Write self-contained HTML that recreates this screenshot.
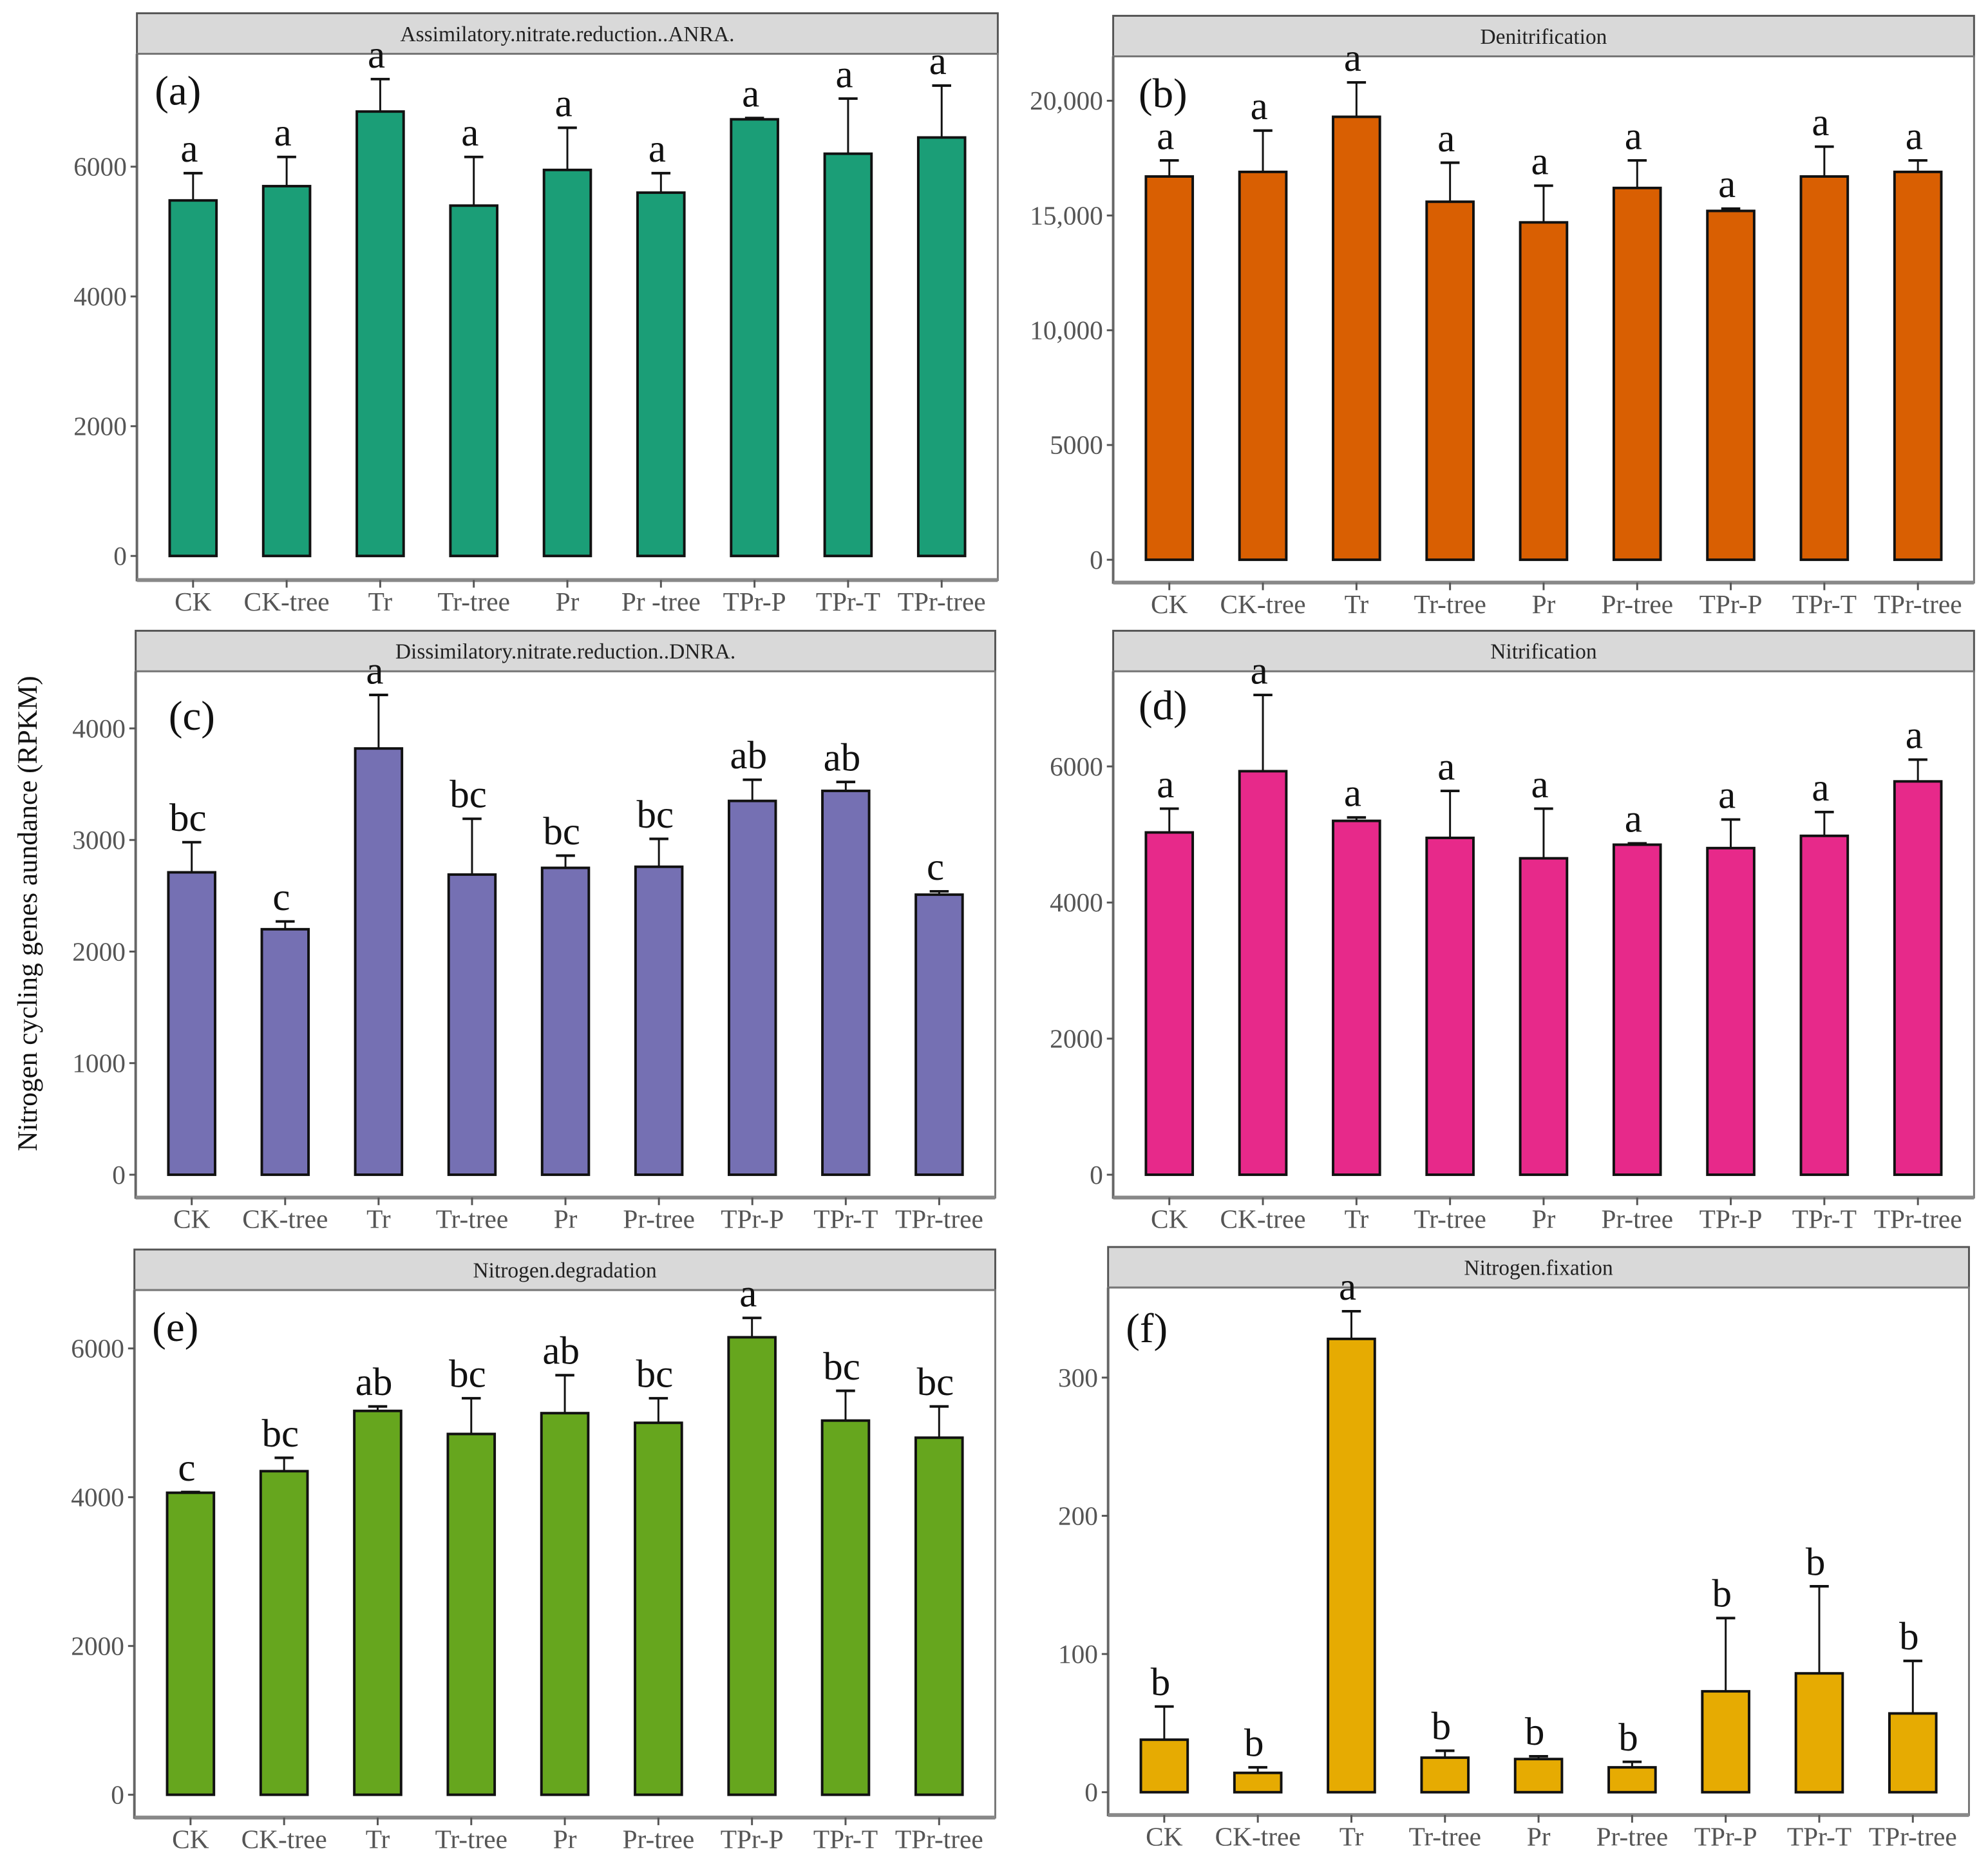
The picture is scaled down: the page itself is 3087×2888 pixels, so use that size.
<!DOCTYPE html>
<html><head><meta charset="utf-8"><style>
html,body{margin:0;padding:0;background:#fff;}
svg{display:block;}
text{font-family:"Liberation Serif",serif;}
</style></head><body>
<svg id="chart" width="3087" height="2888" viewBox="0 0 1568 1466" xmlns="http://www.w3.org/2000/svg">
<text transform="translate(29,720) rotate(-90)" text-anchor="middle" font-size="22" fill="#111">Nitrogen cycling genes aundance (RPKM)</text>
</svg>
<script>
const categories = ["CK","CK-tree","Tr","Tr-tree","Pr","Pr-tree","TPr-P","TPr-T","TPr-tree"];
const valuesA = [5480,5700,6850,5400,5950,5600,6730,6200,6450];
const errA = [5900,6150,7350,6150,6600,5900,6750,7050,7250];
const lettersA = ["a","a","a","a","a","a","a","a","a"];
const valuesB = [16700,16900,19300,15600,14700,16200,15200,16700,16900];
const errB = [17400,18700,20800,17300,16300,17400,15300,18000,17400];
const lettersB = ["a","a","a","a","a","a","a","a","a"];
const valuesC = [2710,2200,3820,2690,2750,2760,3350,3440,2510];
const errC = [2980,2270,4300,3190,2860,3010,3540,3520,2540];
const lettersC = ["bc","c","a","bc","bc","bc","ab","ab","c"];
const valuesD = [5030,5930,5200,4950,4650,4850,4800,4980,5780];
const errD = [5380,7050,5250,5640,5380,4870,5220,5330,6100];
const lettersD = ["a","a","a","a","a","a","a","a","a"];
const valuesE = [4060,4350,5160,4850,5130,5000,6150,5030,4800];
const errE = [4070,4530,5220,5330,5640,5330,6410,5430,5220];
const lettersE = ["c","bc","ab","bc","ab","bc","a","bc","bc"];
const valuesF = [38,14,328,25,24,18,73,86,57];
const errF = [62,18,348,30,26,22,126,149,95];
const lettersF = ["b","b","a","b","b","b","b","b","b"];
const ticksA = [0,2000,4000,6000], tickLabelsA = ["0","2000","4000","6000"];
const ticksB = [0,5000,10000,15000,20000], tickLabelsB = ["0","5000","10,000","15,000","20,000"];
const ticksC = [0,1000,2000,3000,4000], tickLabelsC = ["0","1000","2000","3000","4000"];
const ticksD = [0,2000,4000,6000], tickLabelsD = ["0","2000","4000","6000"];
const ticksE = [0,2000,4000,6000], tickLabelsE = ["0","2000","4000","6000"];
const ticksF = [0,100,200,300], tickLabelsF = ["0","100","200","300"];

const NS="http://www.w3.org/2000/svg";
const svg=document.getElementById('chart');
function mk(tag,attrs,parent,txt){const e=document.createElementNS(NS,tag);for(const k in attrs)e.setAttribute(k,attrs[k]);if(txt!==undefined)e.textContent=txt;(parent||svg).appendChild(e);return e;}

const panels=[
 {id:'a',title:'Assimilatory.nitrate.reduction..ANRA.',x0:108,x1:787,st:10,y0:42,y1:457,zero:438,ref:6000,refY:131,vals:valuesA,err:errA,let:lettersA,ticks:ticksA,tl:tickLabelsA,col:'#1b9e77',lx:122,ly:82,xl:["CK","CK-tree","Tr","Tr-tree","Pr","Pr -tree","TPr-P","TPr-T","TPr-tree"]},
 {id:'b',title:'Denitrification',x0:878,x1:1557,st:12,y0:44,y1:459,zero:441,ref:20000,refY:79,vals:valuesB,err:errB,let:lettersB,ticks:ticksB,tl:tickLabelsB,col:'#d95f02',lx:898,ly:84},
 {id:'c',title:'Dissimilatory.nitrate.reduction..DNRA.',x0:107,x1:785,st:497,y0:529,y1:944,zero:926,ref:4000,refY:574,vals:valuesC,err:errC,let:lettersC,ticks:ticksC,tl:tickLabelsC,col:'#7570b3',lx:133,ly:575},
 {id:'d',title:'Nitrification',x0:878,x1:1557,st:497,y0:529,y1:944,zero:926,ref:6000,refY:604,vals:valuesD,err:errD,let:lettersD,ticks:ticksD,tl:tickLabelsD,col:'#e7298a',lx:898,ly:567},
 {id:'e',title:'Nitrogen.degradation',x0:106,x1:785,st:985,y0:1017,y1:1433,zero:1415,ref:6000,refY:1063,vals:valuesE,err:errE,let:lettersE,ticks:ticksE,tl:tickLabelsE,col:'#66a61e',lx:120,ly:1057},
 {id:'f',title:'Nitrogen.fixation',x0:874,x1:1553,st:983,y0:1015,y1:1431,zero:1413,ref:300,refY:1086,vals:valuesF,err:errF,let:lettersF,ticks:ticksF,tl:tickLabelsF,col:'#e6ab02',lx:888,ly:1058}
];

panels.forEach(p=>{
 const g=mk('g',{});
 
 
 const y=v=>p.zero-(v/p.ref)*(p.zero-p.refY);
 const unit=(p.x1-p.x0)/9.2;
 const x=i=>p.x0+(0.6+i)*unit;
 const bw=unit*0.5;
 const strip=mk('rect',{x:p.x0,y:p.st,width:p.x1-p.x0,height:p.y0-p.st,fill:'#d9d9d9',stroke:'#555','stroke-width':1.5},g);
 
 
 const st=mk('text',{x:(p.x0+p.x1)/2,y:p.st+22,'text-anchor':'middle','font-size':17,fill:'#222'},g,p.title);
 
 
 mk('rect',{x:p.x0,y:p.y0,width:p.x1-p.x0,height:p.y1-p.y0,fill:'#fff',stroke:'#777','stroke-width':1.5},g);
 mk('line',{x1:p.x0,y1:p.y0,x2:p.x0,y2:p.y1+1,stroke:'#666','stroke-width':2},g);
 mk('line',{x1:p.x0,y1:p.y1,x2:p.x1,y2:p.y1,stroke:'#888','stroke-width':3},g);
 p.ticks.forEach((t,i)=>{
  mk('line',{x1:p.x0-5,y1:y(t),x2:p.x0,y2:y(t),stroke:'#555','stroke-width':1.5},g);
  const tt=mk('text',{x:p.x0-8,y:y(t)+7,'text-anchor':'end','font-size':21,fill:'#555'},g,p.tl[i]);
  
  
 });
 const pl=mk('text',{x:p.lx,y:p.ly,'font-size':33,fill:'#111'},g,'('+p.id+')');
 
 
 const xl=p.xl||categories;
 categories.forEach((c,i)=>{
  const cx=x(i);
  mk('line',{x1:cx,y1:p.y1,x2:cx,y2:p.y1+6,stroke:'#555','stroke-width':1.5},g);
  const lt=mk('text',{x:cx,y:p.y1+24,'text-anchor':'middle','font-size':21,fill:'#555'},g,xl[i]);
  
  
  const et=y(p.err[i]), bt=y(p.vals[i]);
  mk('line',{x1:cx,y1:bt,x2:cx,y2:et,stroke:'#111','stroke-width':1.5},g);
  mk('line',{x1:cx-7.5,y1:et,x2:cx+7.5,y2:et,stroke:'#111','stroke-width':2},g);
  const b=mk('rect',{x:cx-bw/2,y:bt,width:bw,height:p.zero-bt,fill:p.col,stroke:'#111','stroke-width':2},g);
  
  
  const l=mk('text',{x:cx-3,y:et-9,'text-anchor':'middle','font-size':31,fill:'#111'},g,p.let[i]);
  
  
 });
});
</script>
</body></html>
